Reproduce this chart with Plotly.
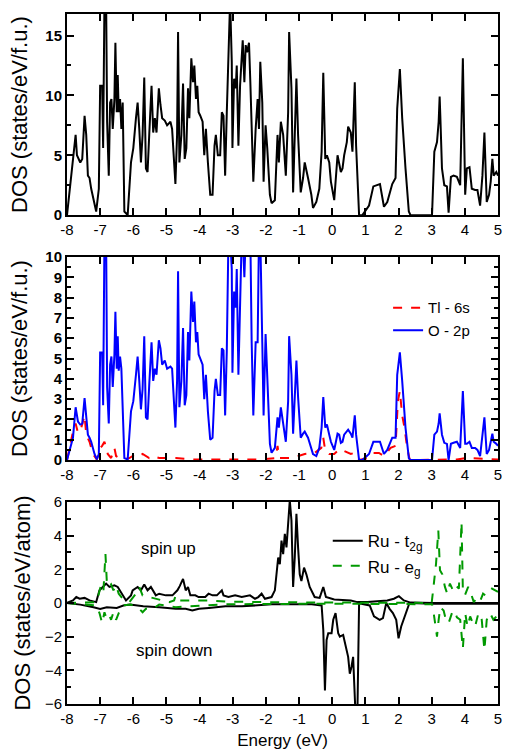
import plotly.graph_objects as go
from plotly.subplots import make_subplots

# ---------------- Data ----------------
# Top panel: total DOS
tot_E = [-8.00,-7.74,-7.70,-7.60,-7.54,-7.47,-7.42,-7.37,-7.32,-7.27,-7.12,-7.04,-7.00,-6.94,-6.91,-6.87,-6.82,-6.79,-6.74,-6.70,
         -6.66,-6.62,-6.57,-6.54,-6.50,-6.47,-6.44,-6.40,-6.36,-6.32,-6.27,-6.17,-6.07,-6.00,-5.92,-5.87,-5.82,-5.77,-5.72,-5.67,
         -5.62,-5.57,-5.52,-5.45,-5.40,-5.35,-5.30,-5.23,-5.18,-5.13,-5.05,-4.98,-4.88,-4.83,-4.73,-4.68,-4.65,-4.61,-4.55,-4.50,
         -4.45,-4.40,-4.35,-4.31,-4.25,-4.20,-4.16,-4.11,-4.07,-4.03,-3.98,-3.91,-3.86,-3.81,-3.75,-3.68,-3.61,-3.55,-3.51,-3.45,
         -3.38,-3.33,-3.28,-3.23,-3.18,-3.13,-3.08,-3.03,-3.01,-2.96,-2.91,-2.88,-2.83,-2.78,-2.73,-2.70,-2.65,-2.61,-2.57,-2.51,
         -2.47,-2.43,-2.38,-2.31,-2.25,-2.21,-2.17,-2.11,-2.07,-2.01,-1.96,-1.88,-1.83,-1.73,-1.65,-1.61,-1.55,-1.48,-1.40,-1.33,
         -1.30,-1.23,-1.18,-1.13,-1.08,-1.03,-0.95,-0.88,-0.83,-0.73,-0.63,-0.58,-0.48,-0.39,-0.32,-0.27,-0.21,-0.16,-0.09,-0.04,
         0.06,0.16,0.21,0.26,0.31,0.36,0.44,0.48,0.56,0.61,0.68,0.72,0.81,0.91,1.11,1.24,1.44,1.56,1.66,1.81,
         1.91,1.96,2.04,2.11,2.21,2.31,2.36,3.01,3.08,3.16,3.21,3.24,3.26,3.31,3.38,3.46,3.51,3.58,3.66,3.76,
         3.86,3.94,4.01,4.06,4.14,4.21,4.31,4.38,4.46,4.53,4.59,4.66,4.73,4.78,4.83,4.87,4.95,5.00]
tot_DOS = [0,6.7,5.0,4.4,4.7,8.3,6.7,3.3,3.1,2.2,0.3,2.2,10.8,10.8,5.6,18,18,7.8,3.3,9.4,
           9.7,7.2,9.7,14.4,8.6,11.7,8.6,9.7,7.2,9.4,0.3,0.0,4.4,5.6,8.1,9.4,7.2,4.4,6.7,11.5,
           3.9,3.6,6.7,10.8,6.9,8.1,6.9,10.6,9.2,8.1,7.9,7.5,7.8,7.2,2.6,6.7,15.3,4.4,6.7,11.0,
           4.7,5.6,10.6,8.1,13.1,11.1,12.5,9.7,10.8,8.6,8.3,7.8,5.0,7.2,4.4,1.7,1.7,5.8,6.7,5.0,
           5.0,8.6,8.3,3.3,8.6,12.2,18,12.8,5.6,11.4,10.6,12.5,5.8,10.8,13.1,14.6,11.1,14.2,13.6,14.4,
           11.1,7.2,2.8,7.2,9.7,7.2,12.8,9.4,2.8,7.5,5.6,1.7,1.0,1.25,6.7,4.4,7.8,6.7,3.3,8.6,
           15.3,10.6,1.9,6.7,11.4,6.7,1.9,3.1,4.4,3.1,1.7,0.6,1.1,2.2,5.3,11.9,4.7,5.0,4.4,2.8,
           1.25,5.0,4.4,3.6,3.9,5.0,6.1,7.4,6.9,5.3,11.1,5.8,0,0,0.8,2.4,2.6,0.7,1.1,2.6,
           3.1,8.9,12.2,8.1,3.9,0.3,0,0,5.3,6.1,7.8,9.9,8.3,3.9,2.5,2.4,0.2,3.2,3.3,3.2,
           2.5,13.1,1.7,3.9,4.0,2.2,2.1,2.1,0.8,3.3,6.9,1.1,1.7,2.8,4.7,3.3,3.6,3.3]

# Middle panel: O-2p and Tl-6s partial DOS
o2p_E = [-8.00,-7.82,-7.74,-7.67,-7.60,-7.54,-7.47,-7.42,-7.37,-7.32,-7.27,-7.17,-7.10,-7.04,-7.00,-6.94,-6.91,-6.87,-6.82,-6.79,
         -6.74,-6.70,-6.66,-6.62,-6.57,-6.54,-6.50,-6.47,-6.44,-6.40,-6.36,-6.27,-6.17,-6.07,-6.00,-5.92,-5.87,-5.82,-5.77,-5.72,
         -5.67,-5.62,-5.57,-5.52,-5.45,-5.40,-5.35,-5.30,-5.23,-5.18,-5.13,-5.05,-4.98,-4.88,-4.83,-4.73,-4.68,-4.65,-4.61,-4.55,
         -4.50,-4.45,-4.40,-4.35,-4.31,-4.25,-4.20,-4.16,-4.11,-4.07,-4.03,-3.98,-3.91,-3.86,-3.81,-3.75,-3.68,-3.61,-3.55,-3.51,
         -3.45,-3.38,-3.33,-3.28,-3.23,-3.18,-3.13,-3.08,-3.03,-3.01,-2.96,-2.91,-2.88,-2.83,-2.78,-2.73,-2.70,-2.65,-2.61,-2.57,
         -2.51,-2.47,-2.43,-2.38,-2.31,-2.25,-2.21,-2.17,-2.11,-2.07,-2.01,-1.96,-1.88,-1.83,-1.73,-1.65,-1.61,-1.55,-1.48,-1.40,
         -1.33,-1.30,-1.23,-1.18,-1.13,-1.08,-1.03,-0.95,-0.88,-0.83,-0.73,-0.63,-0.58,-0.48,-0.39,-0.32,-0.27,-0.21,-0.16,-0.09,
         -0.04,0.06,0.16,0.21,0.26,0.31,0.36,0.48,0.56,0.61,0.68,0.72,0.81,0.91,1.11,1.24,1.44,1.56,1.66,1.81,
         1.91,1.96,2.04,2.11,2.21,2.31,2.36,3.01,3.08,3.16,3.21,3.24,3.31,3.38,3.46,3.51,3.58,3.66,3.76,3.86,
         3.94,4.01,4.06,4.14,4.21,4.31,4.38,4.46,4.53,4.59,4.66,4.73,4.83,4.87,4.95,5.00]
o2p_DOS = [0,1.1,2.6,1.9,1.75,1.8,3.05,2.2,1.25,1.1,0.9,0.3,0.03,0.3,5.3,5.3,2.7,11,11,3.6,
           1.8,4.7,5.1,3.6,5.2,7.3,4.5,6.1,4.4,5.1,4.5,0.1,0.03,2.4,2.9,4.2,5.1,3.9,2.5,3.5,
           6.1,2.1,2.0,3.7,5.8,3.9,4.5,4.2,5.9,5.5,4.7,4.9,4.5,4.6,4.5,1.6,3.9,9.3,2.6,3.9,
           6.5,2.7,3.2,6.3,4.9,8.3,6.8,7.8,5.8,6.3,5.2,5.0,4.7,3.0,4.2,2.4,1.0,1.1,3.4,4.0,
           3.2,3.2,5.5,5.4,2.2,5.4,11,11,9.4,4.3,8.3,7.5,9.4,4.2,7.5,11,11,9.0,11,11,
           11,11,5.8,2.2,5.8,5.8,11,11,5.8,2.2,6.2,3.9,0.8,0.36,0.6,2.1,1.6,2.6,1.9,0.9,
           2.9,6.1,4.2,1.3,3.1,4.9,3.1,1.1,1.3,1.4,1.1,0.5,0.3,0.2,0.6,1.6,3.1,1.6,1.75,1.25,
           0.9,0.5,1.3,1.25,0.85,0.9,1.25,1.5,1.3,1.1,2.2,1.25,0,0,0.3,0.9,0.9,0.3,0.5,1.1,
           1.1,4.2,5.3,3.9,1.6,0.1,0,0,1.25,1.4,1.8,2.3,1.25,0.85,0.8,0.0,0.8,0.85,0.9,0.6,
           3.4,0.8,0.8,0.9,0.6,0.6,0.5,0.2,1.1,2.1,0.3,0.5,1.3,0.9,0.8,0.7]

tl6s_E = [-8.00,-7.82,-7.74,-7.67,-7.60,-7.52,-7.47,-7.42,-7.32,-7.22,-7.10,-7.00,-6.94,-6.87,-6.82,-6.77,-6.67,-6.57,-6.52,-6.42,
          -6.27,-6.12,-5.92,-5.82,-5.72,-5.52,-5.42,-5.22,-4.72,-4.22,-3.72,-3.22,-2.22,-1.70,-1.65,-1.60,-1.22,-0.83,-0.53,-0.33,
          -0.27,-0.21,-0.09,0.06,0.16,0.26,0.36,0.56,0.66,0.81,1.06,1.21,1.41,1.56,1.76,1.91,1.98,2.04,2.11,2.18,
          2.26,2.34,3.76,4.06,5.00]
tl6s_DOS = [0,1.4,1.8,1.35,1.4,1.9,2.2,1.25,0.9,0.3,0.03,0.6,0.7,0.9,0.6,0.3,0.1,0.6,0.2,0.1,
            0.03,0.1,0.3,0.2,0.3,0.1,0.2,0.1,0.1,0.03,0.03,0.03,0.03,0.1,0.7,0.1,0.1,0.3,0.35,0.6,
            1.1,0.45,0.3,0.3,0.45,0.35,0.45,0.3,0.35,0,0.1,0.35,0.35,0.2,0.6,0.7,2.9,3.4,2.2,1.6,
            0.6,0.0,0.03,0.1,0.03]

# Bottom panel: Ru d partial DOS (spin up positive, spin down negative)
t2g_up_E = [-8.00,-7.82,-7.72,-7.62,-7.47,-7.32,-7.12,-7.02,-6.92,-6.82,-6.72,-6.57,-6.47,-6.37,-6.22,-6.07,-6.02,-5.87,-5.77,-5.67,
            -5.57,-5.47,-5.32,-5.22,-5.02,-4.82,-4.67,-4.60,-4.50,-4.42,-4.35,-4.28,-4.13,-4.03,-3.83,-3.73,-3.61,-3.48,-3.33,-3.28,
            -3.13,-2.93,-2.73,-2.48,-2.33,-2.23,-2.13,-2.03,-1.83,-1.73,-1.63,-1.58,-1.53,-1.48,-1.43,-1.38,-1.33,-1.28,-1.23,-1.18,
            -1.13,-1.08,-1.03,-0.98,-0.93,-0.85,-0.78,-0.68,-0.53,-0.38,-0.27,-0.19,0.06,0.36,0.56,0.76,1.06,1.36,1.66,1.86,
            2.01,2.16,2.36,3.06,5.00]
t2g_up_DOS = [0,0.15,0.35,0.25,0.3,0.15,0.05,0.75,0.95,1.15,0.95,1.05,0.95,0.65,0.15,0.45,0.75,0.95,0.75,1.1,
              0.75,0.95,0.45,0.55,0.45,0.45,0.75,1.0,1.43,0.75,0.95,0.45,0.45,0.35,0.35,0.55,0.45,0.45,0.75,0.45,
              0.35,0.45,0.35,0.45,0.25,0.35,0.55,0.25,0.35,0.75,2.7,2.3,3.7,2.9,4.1,3.3,4.9,6.1,4.9,0.95,
              2.7,5.3,3.3,1.7,1.3,2.1,1.7,0.95,0.35,0.3,0.95,0.35,0.2,0.15,0.15,0.05,0.05,0.1,0.15,0.25,
              0.4,0.15,0.02,0,0]

t2g_dn_E = [-8.00,-7.60,-7.20,-7.00,-6.80,-6.50,-6.30,-6.10,-5.70,-5.22,-4.72,-4.42,-4.22,-4.02,-3.72,-3.22,-2.72,-2.22,-1.82,-1.22,
            -0.62,-0.32,-0.27,-0.22,-0.17,-0.12,-0.02,0.03,0.10,0.18,0.23,0.33,0.40,0.48,0.53,0.58,0.63,0.70,0.76,0.81,
            0.88,1.13,1.26,1.43,1.53,1.63,1.73,1.83,1.93,2.00,2.08,2.18,2.33,3.00,5.00]
t2g_dn_DOS = [0,-0.1,-0.25,-0.35,-0.25,-0.3,-0.15,-0.1,-0.2,-0.25,-0.35,-0.35,-0.45,-0.35,-0.3,-0.2,-0.2,-0.15,-0.08,-0.08,
              -0.08,-0.15,-1.6,-5.2,-2.2,-1.8,-1.8,-1.0,-0.6,-1.8,-2.0,-1.9,-2.6,-3.2,-4.2,-3.8,-3.2,-6.5,-6.5,0,
              -0.05,-0.15,-0.8,-1.0,-0.9,0,-0.35,-0.6,-1.0,-2.1,-1.4,-0.8,0,-0.05,-0.05]

eg_up_E = [-8.00,-7.12,-7.04,-6.97,-6.90,-6.84,-6.80,-6.74,-6.67,-6.60,-6.52,-6.44,-6.32,-6.12,-5.92,-5.82,-5.72,-5.52,-5.32,-5.12,
           -4.92,-4.77,-4.72,-4.62,-4.22,-4.02,-3.72,-3.22,-2.22,-1.72,3.00,3.08,3.13,3.20,3.25,3.32,3.40,3.47,3.55,3.64,
           3.72,3.82,3.90,3.94,4.00,4.10,4.17,4.27,4.37,4.47,4.55,4.62,4.72,4.82,5.00]
eg_up_DOS = [0,0.05,0.55,1.1,0.75,2.9,1.3,0.95,1.1,0.75,1.05,0.55,0.25,0.05,0.55,0.95,0.45,0.35,0.25,0.15,
             0.05,0.15,0.45,0.15,0.15,0.12,0.15,0.08,0.04,0.04,0.0,1.3,2.3,4.3,1.95,1.7,0.95,0.55,1.15,0.75,
             1.05,0.85,4.8,0.75,0.45,0.95,0.65,0.05,0.35,0.15,0.55,0.45,0.55,0.85,0.65]

eg_dn_E = [-8.00,-7.12,-7.02,-6.94,-6.87,-6.82,-6.74,-6.67,-6.60,-6.52,-6.44,-6.32,-6.07,-5.82,-5.72,-5.62,-5.42,-5.22,-4.72,-4.22,
           -3.72,-3.22,0.00,3.01,3.06,3.11,3.16,3.21,3.26,3.36,3.41,3.51,3.61,3.68,3.76,3.86,3.94,4.01,4.08,4.16,
           4.24,4.31,4.41,4.51,4.59,4.66,4.76,4.86,5.00]
eg_dn_DOS = [0,-0.15,-0.6,-1.2,-0.55,-0.85,-0.65,-1.0,-0.55,-1.0,-0.6,-0.15,-0.1,-0.35,-0.55,-0.35,-0.35,-0.1,-0.25,-0.2,
             -0.15,-0.08,-0.04,-0.08,-0.6,-1.4,-2.0,-1.0,-0.25,-0.45,-0.85,-1.2,-0.6,-0.45,-0.85,-1.0,-2.7,-0.6,-1.4,-0.8,
             -1.2,-1.4,-0.6,-1.0,-2.8,-1.0,-0.6,-1.0,-0.7]

x_ticks = [-8, -7, -6, -5, -4, -3, -2, -1, 0, 1, 2, 3, 4, 5]

# ---------------- Figure ----------------
FONT = "Liberation Sans, Arial, sans-serif"
fig = make_subplots(rows=3, cols=1, shared_xaxes=False, vertical_spacing=0.06)

fig.add_trace(go.Scatter(x=tot_E, y=tot_DOS, mode="lines", line=dict(color="black", width=2),
                         showlegend=False), row=1, col=1)

fig.add_trace(go.Scatter(x=tl6s_E, y=tl6s_DOS, mode="lines", name="Tl - 6s",
                         line=dict(color="#ff0000", width=2, dash="dash"), legend="legend2"), row=2, col=1)
fig.add_trace(go.Scatter(x=o2p_E, y=o2p_DOS, mode="lines", name="O - 2p",
                         line=dict(color="#0000ff", width=2), legend="legend2"), row=2, col=1)

fig.add_trace(go.Scatter(x=t2g_up_E, y=t2g_up_DOS, mode="lines", name="Ru - t<sub>2g</sub>",
                         line=dict(color="black", width=2), legend="legend3"), row=3, col=1)
fig.add_trace(go.Scatter(x=t2g_dn_E, y=t2g_dn_DOS, mode="lines", showlegend=False,
                         line=dict(color="black", width=2)), row=3, col=1)
fig.add_trace(go.Scatter(x=eg_up_E, y=eg_up_DOS, mode="lines", name="Ru - e<sub>g</sub>",
                         line=dict(color="#009900", width=2, dash="dash"), legend="legend3"), row=3, col=1)
fig.add_trace(go.Scatter(x=eg_dn_E, y=eg_dn_DOS, mode="lines", showlegend=False,
                         line=dict(color="#009900", width=2, dash="dash")), row=3, col=1)

axis_common = dict(showline=True, linewidth=2, linecolor="black", mirror="allticks",
                   ticks="inside", ticklen=7, tickwidth=1.5, tickcolor="black",
                   showgrid=False, zeroline=False)

for r in (1, 2, 3):
    fig.update_xaxes(range=[-8, 5], tickvals=x_ticks, ticktext=[str(v) for v in x_ticks],
                     tickfont=dict(family=FONT, size=15, color="black"), **axis_common, row=r, col=1)

fig.update_yaxes(range=[0, 16.8], tickvals=[0, 5, 10, 15],
                 minor=dict(dtick=2.5, ticks="inside", ticklen=4, tickcolor="black", tickwidth=1.5),
                 tickfont=dict(family=FONT, size=15, color="black", weight="bold"),
                 title=dict(text="DOS (states/eV/f.u.)", font=dict(family=FONT, size=22, color="black"), standoff=12),
                 **axis_common, row=1, col=1)
fig.update_yaxes(range=[0, 10], tickvals=list(range(0, 11)),
                 minor=dict(dtick=0.5, ticks="inside", ticklen=4, tickcolor="black", tickwidth=1.5),
                 tickfont=dict(family=FONT, size=15, color="black", weight="bold"),
                 title=dict(text="DOS (states/eV/f.u.)", font=dict(family=FONT, size=22, color="black"), standoff=12),
                 **axis_common, row=2, col=1)
fig.update_yaxes(range=[-6, 6], tickvals=[-6, -4, -2, 0, 2, 4, 6],
                 minor=dict(dtick=1, ticks="inside", ticklen=4, tickcolor="black", tickwidth=1.5),
                 tickfont=dict(family=FONT, size=15, color="black"),
                 title=dict(text="DOS (states/eV/atom)", font=dict(family=FONT, size=22, color="black"), standoff=8),
                 **axis_common, row=3, col=1)
fig.update_xaxes(title=dict(text="Energy (eV)", font=dict(family=FONT, size=17, color="black"), standoff=8),
                 row=3, col=1)

fig.update_layout(
    width=507, height=755,
    margin=dict(l=67, r=5, t=11, b=51),
    paper_bgcolor="white", plot_bgcolor="white",
    font=dict(family=FONT, color="black"),
    xaxis=dict(domain=[0, 1]),
    yaxis=dict(domain=[0.7085, 1.0]),
    yaxis2=dict(domain=[0.3535, 0.6479]),
    yaxis3=dict(domain=[0.0, 0.2929]),
    legend2=dict(x=0.745, y=0.598, xanchor="left", yanchor="top", bgcolor="rgba(0,0,0,0)",
                 font=dict(family=FONT, size=15, color="black"), itemwidth=30, tracegroupgap=0),
    legend3=dict(x=0.605, y=0.262, xanchor="left", yanchor="top", bgcolor="rgba(0,0,0,0)",
                 font=dict(family=FONT, size=17, color="black"), itemwidth=30, tracegroupgap=0),
    annotations=[
        dict(x=-4.93, y=3.25, xref="x3", yref="y3", text="spin up", showarrow=False,
             font=dict(family=FONT, size=17, color="black")),
        dict(x=-4.75, y=-2.8, xref="x3", yref="y3", text="spin down", showarrow=False,
             font=dict(family=FONT, size=17, color="black")),
    ],
)

fig.write_html("out.html")
